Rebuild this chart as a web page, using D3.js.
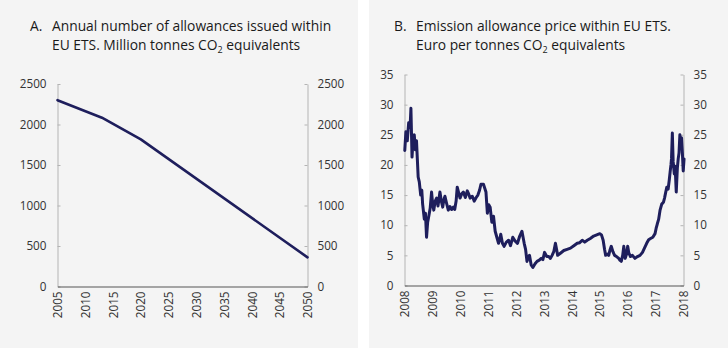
<!DOCTYPE html>
<html><head><meta charset="utf-8">
<script src="https://cdn.jsdelivr.net/npm/d3@7"></script>
<style>
body{margin:0;background:#fff;}
svg{display:block;font-family:"Open Sans",sans-serif;}
</style></head>
<body><svg id="c" width="728" height="348"></svg>
<script>
// Panel A: annual allowances (million tonnes CO2 eq.)
const capYears  = [2005, 2013, 2020, 2050];
const capValues = [2300, 2084, 1816, 360];
const capXTicks = [2005, 2010, 2015, 2020, 2025, 2030, 2035, 2040, 2045, 2050];
const capYTicks = [0, 500, 1000, 1500, 2000, 2500];

// Panel B: allowance price (euro per tonne CO2 eq.)
const priceDates = [2008.01,2008.05,2008.10,2008.15,2008.20,2008.23,2008.27,2008.31,2008.35,2008.39,2008.43,2008.46,2008.49,2008.53,2008.58,2008.62,2008.65,2008.71,2008.75,2008.79,2008.83,2008.87,2008.92,2008.97,2009.01,2009.05,2009.10,2009.15,2009.20,2009.27,2009.32,2009.37,2009.41,2009.45,2009.51,2009.57,2009.63,2009.69,2009.75,2009.80,2009.85,2009.89,2009.94,2009.99,2010.05,2010.11,2010.18,2010.25,2010.30,2010.35,2010.43,2010.50,2010.57,2010.63,2010.69,2010.74,2010.83,2010.92,2010.97,2011.02,2011.07,2011.13,2011.19,2011.25,2011.31,2011.37,2011.41,2011.45,2011.51,2011.57,2011.65,2011.73,2011.80,2011.88,2011.96,2012.05,2012.13,2012.21,2012.29,2012.34,2012.39,2012.44,2012.48,2012.54,2012.60,2012.68,2012.75,2012.83,2012.90,2012.96,2013.02,2013.10,2013.17,2013.23,2013.29,2013.35,2013.41,2013.45,2013.49,2013.60,2013.71,2013.83,2013.95,2014.07,2014.19,2014.28,2014.37,2014.46,2014.55,2014.66,2014.78,2014.89,2015.00,2015.06,2015.12,2015.17,2015.21,2015.27,2015.32,2015.36,2015.41,2015.47,2015.53,2015.60,2015.68,2015.72,2015.77,2015.82,2015.86,2015.91,2015.96,2016.00,2016.04,2016.10,2016.17,2016.26,2016.35,2016.44,2016.53,2016.60,2016.68,2016.75,2016.82,2016.90,2016.98,2017.02,2017.06,2017.11,2017.16,2017.22,2017.28,2017.32,2017.36,2017.40,2017.45,2017.49,2017.52,2017.55,2017.57,2017.60,2017.63,2017.67,2017.70,2017.74,2017.78,2017.81,2017.84,2017.87,2017.90,2017.93,2017.96,2017.99,2018.02];
const priceValues = [22.4,25.5,24.0,27.0,26.2,29.4,21.3,24.5,25.0,22.5,24.0,21.0,18.0,17.2,15.0,15.8,13.5,11.0,12.0,8.0,10.5,11.5,12.8,15.5,13.5,12.5,14.0,14.5,13.2,15.5,14.0,13.0,14.2,14.8,13.6,12.5,13.1,12.6,13.0,12.6,14.0,16.3,15.4,14.5,15.2,15.5,14.6,15.7,15.2,14.5,14.8,14.0,14.6,15.0,15.8,16.8,16.8,15.5,12.0,13.4,13.0,10.5,11.5,9.0,8.0,7.0,7.6,8.5,7.0,6.5,7.2,7.5,6.6,8.0,7.4,7.0,8.2,9.0,7.0,6.0,4.0,4.8,5.0,3.4,3.0,3.6,4.0,4.2,4.5,4.3,5.5,4.8,4.8,4.5,5.0,5.6,7.0,6.0,5.0,5.4,5.8,6.0,6.2,6.6,7.0,7.1,7.5,7.2,7.5,7.8,8.2,8.4,8.6,8.4,7.5,6.0,5.0,5.2,5.0,5.8,6.5,5.6,5.0,4.8,4.5,4.2,4.0,5.0,6.5,4.5,5.2,6.5,5.4,4.8,5.0,4.5,4.8,5.0,5.5,6.2,7.0,7.6,7.8,8.0,8.6,9.5,10.2,11.0,12.5,13.5,13.8,14.5,15.4,16.3,16.0,17.5,18.8,20.0,21.0,25.3,20.5,18.5,19.8,15.5,19.5,21.0,22.0,25.0,23.5,24.5,22.0,19.0,21.0,23.0];
const priceXTicks = [2008,2009,2010,2011,2012,2013,2014,2015,2016,2017,2018];
const priceYTicks = [0,5,10,15,20,25,30,35];

const svg = d3.select("#c");
const lineColor = "#1e1e5c";
const axisColor = "#b4b4b4";
const textColor = "#333";

svg.append("rect").attr("x",0).attr("y",0).attr("width",358).attr("height",348).attr("fill","#f4f4f4");
svg.append("rect").attr("x",369).attr("y",0).attr("width",359).attr("height",348).attr("fill","#f4f4f4");

function title(x, letter, l1, l2) {
  const g = svg.append("g").attr("fill","#1a1a1a").style("font-size","13.8px");
  g.append("text").attr("x",x).attr("y",31).text(letter);
  g.append("text").attr("x",x+22).attr("y",31).text(l1);
  const t = g.append("text").attr("x",x+22).attr("y",50);
  t.append("tspan").text(l2);
  t.append("tspan").attr("dy",3).style("font-size","9px").text("2");
  t.append("tspan").attr("dy",-3).text(" equivalents");
}
title(30, "A.", "Annual number of allowances issued within", "EU ETS. Million tonnes CO");
title(394, "B.", "Emission allowance price within EU ETS.", "Euro per tonnes CO");

function panel(opts) {
  const {x0,x1,y0,y1,xDomain,yDomain,xTicks,yTicks,xs,ys,sw} = opts;
  const x = d3.scaleLinear().domain(xDomain).range([x0,x1]);
  const y = d3.scaleLinear().domain(yDomain).range([y0,y1]);
  const g = svg.append("g");
  const styleAxis = sel => {
    sel.select(".domain").attr("stroke",axisColor);
    sel.selectAll(".tick line").attr("stroke",axisColor);
    sel.selectAll(".tick text").attr("fill",textColor).style("font-size","11.7px").style("font-family","'Open Sans',sans-serif");
  };
  g.append("g").attr("transform",`translate(${x0},0)`)
    .call(d3.axisLeft(y).tickValues(yTicks).tickFormat(d3.format("d")).tickSizeInner(-3).tickSizeOuter(0).tickPadding(11))
    .call(styleAxis);
  g.append("g").attr("transform",`translate(${x1},0)`)
    .call(d3.axisRight(y).tickValues(yTicks).tickFormat(d3.format("d")).tickSizeInner(-3).tickSizeOuter(0).tickPadding(10))
    .call(styleAxis);
  const xa = g.append("g").attr("transform",`translate(0,${y0})`)
    .call(d3.axisBottom(x).tickValues(xTicks).tickFormat(d3.format("d")).tickSize(0).tickSizeOuter(0))
    .call(styleAxis);
  xa.select(".domain").attr("stroke","#555");
  xa.selectAll(".tick text").attr("transform","rotate(-90)").attr("text-anchor","end")
    .attr("x",-5).attr("y",0).attr("dy","0.35em");
  const pts = xs.map((d,i)=>[d, ys[i]]);
  g.append("path").datum(pts)
    .attr("fill","none").attr("stroke",lineColor).attr("stroke-width",sw)
    .attr("stroke-linejoin","round").attr("stroke-linecap","round")
    .attr("d", d3.line().x(d=>x(d[0])).y(d=>y(d[1])));
}

panel({x0:57.5,x1:307.5,y0:286.5,y1:84,xDomain:[2005,2050],yDomain:[0,2500],
  xTicks:capXTicks,yTicks:capYTicks,xs:capYears,ys:capValues,sw:2.6});
panel({x0:404.5,x1:683.5,y0:285.5,y1:74.5,xDomain:[2008,2018],yDomain:[0,35],
  xTicks:priceXTicks,yTicks:priceYTicks,xs:priceDates,ys:priceValues,sw:3});
</script></body></html>
